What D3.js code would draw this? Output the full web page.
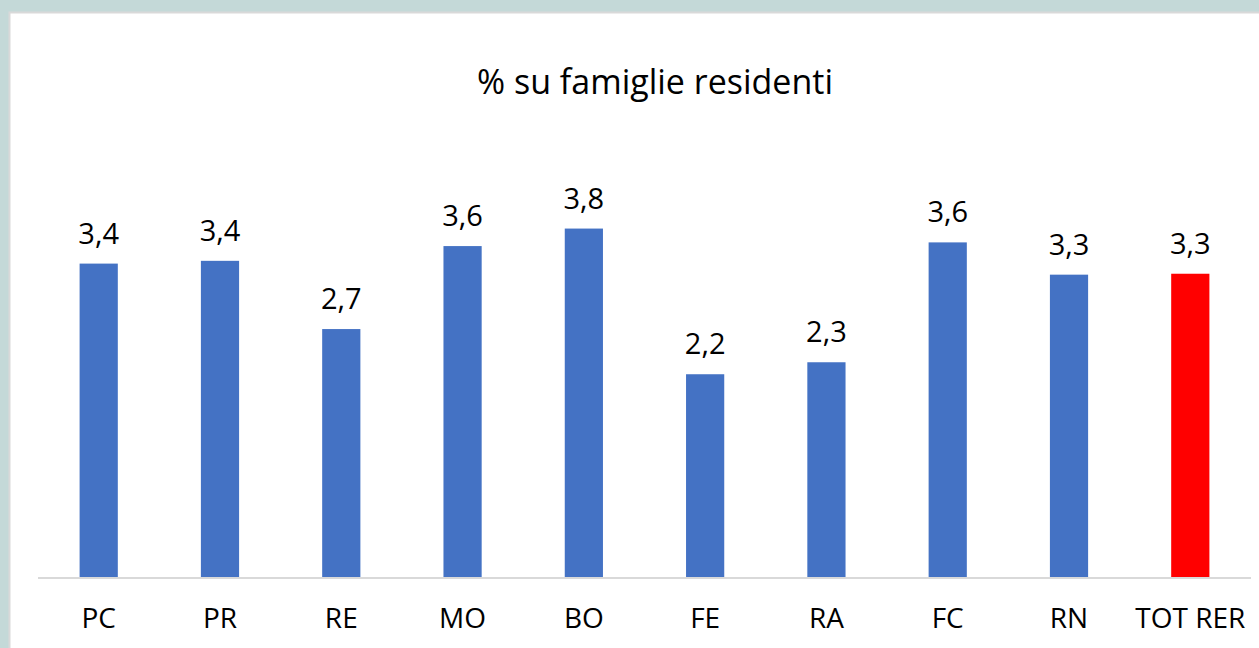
<!DOCTYPE html>
<html>
<head>
  <meta charset="UTF-8">
  <title>% su famiglie residenti</title>
  <script src="https://d3js.org/d3.v7.min.js"></script>
  <style>
    body { margin: 0; background: #c4d9d8; }
    svg { display: block; }
  </style>
</head>
<body>
<svg id="chart" width="1259" height="648"></svg>
<script>
// data
var categories = ["PC", "PR", "RE", "MO", "BO", "FE", "RA", "FC", "RN", "TOT RER"];
var values = [3.41, 3.44, 2.70, 3.60, 3.79, 2.21, 2.34, 3.64, 3.29, 3.30];
var highlight = ["TOT RER"];
var title = "% su famiglie residenti";

var svg = d3.select("#chart"),
    width = +svg.attr("width"),
    height = +svg.attr("height");

var font = "'Open Sans', sans-serif";

// white panel with thin grey edge
svg.append("rect")
  .attr("x", 9.5).attr("y", 12.5)
  .attr("width", width).attr("height", height)
  .attr("fill", "#fff")
  .attr("stroke", "#d9d9d9")
  .attr("stroke-width", 2);

var x = d3.scaleBand()
  .domain(categories)
  .range([38, 1251])
  .paddingInner(0.685)
  .paddingOuter(0.343);

var y = d3.scaleLinear()
  .domain([0, 4])
  .range([578, 209.2]);

svg.append("text")
  .attr("x", 655).attr("y", 94)
  .attr("text-anchor", "middle")
  .style("font-family", font)
  .style("font-size", "34px")
  .attr("fill", "#000")
  .text(title);

// bars
svg.append("g")
  .selectAll("rect")
  .data(values)
  .enter().append("rect")
  .attr("x", function(d, i) { return x(categories[i]); })
  .attr("y", function(d) { return y(d); })
  .attr("width", x.bandwidth())
  .attr("height", function(d) { return y(0) - y(d); })
  .attr("fill", function(d, i) {
    return highlight.indexOf(categories[i]) >= 0 ? "#ff0000" : "#4472c4";
  });

// value labels
var fmt = function(d) { return d3.format(".1f")(d).replace(".", ","); };
svg.append("g")
  .selectAll("text")
  .data(values)
  .enter().append("text")
  .attr("x", function(d, i) { return x(categories[i]) + x.bandwidth() / 2; })
  .attr("y", function(d) { return y(d) - 20; })
  .attr("text-anchor", "middle")
  .style("font-family", font)
  .style("font-size", "29px")
  .attr("fill", "#000")
  .text(fmt);

// category axis
var axis = svg.append("g")
  .attr("transform", "translate(0," + y(0) + ")")
  .call(d3.axisBottom(x).tickSize(0).tickPadding(0));
axis.select(".domain")
  .attr("d", "M38,0H1251")
  .attr("stroke", "#d9d9d9")
  .attr("stroke-width", 2);
axis.selectAll("text")
  .attr("dy", 0)
  .attr("y", 50)
  .style("font-family", font)
  .style("font-size", "28px")
  .attr("fill", "#000");
</script>
</body>
</html>
